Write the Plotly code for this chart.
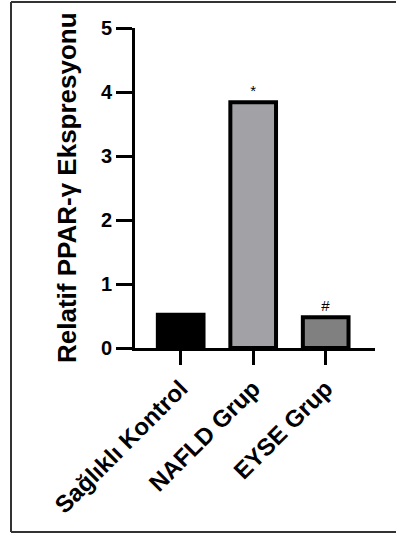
import plotly.graph_objects as go

categories = ["Sağlıklı Kontrol", "NAFLD Grup", "EYSE Grup"]
values = [0.52, 3.84, 0.48]
colors = ["#000000", "#a2a2a6", "#808080"]
markers = ["", "*", "#"]
y_ticks = [0, 1, 2, 3, 4, 5]

FONT = "Liberation Sans, Arial, sans-serif"

fig = go.Figure()
fig.add_trace(go.Bar(
    x=categories, y=values, width=0.63,
    marker=dict(color=colors, line=dict(color="#000000", width=4)),
    text=markers, textposition="outside",
    textfont=dict(family=FONT, size=15, color="#000000"),
    cliponaxis=False,
))

W, H = 396, 537
L, R, T, B = 135, 21, 28, 189
pw, ph = W - L - R, H - T - B

def px_to_paper_x(px):
    return (px - L) / pw

def px_to_paper_y(py):
    return (H - B - py) / ph

frame = dict(color="#333333", width=2)
xl, xr = px_to_paper_x(11), px_to_paper_x(400)
yt, yb = px_to_paper_y(2), px_to_paper_y(532)
for x0, y0, x1, y1 in [(xl, yb, xl, yt), (xl, yt, xr, yt), (xl, yb, xr, yb)]:
    fig.add_shape(type="line", xref="paper", yref="paper",
                  x0=x0, y0=y0, x1=x1, y1=y1, line=frame, layer="below")

fig.add_annotation(text="Relatif PPAR-γ Ekspresyonu", xref="paper", yref="paper",
                   x=px_to_paper_x(67), y=px_to_paper_y(188), textangle=-90,
                   showarrow=False, xanchor="center", yanchor="middle",
                   font=dict(family=FONT, size=26, color="#000000", weight="bold"))

fig.update_layout(
    width=W, height=H,
    margin=dict(l=L, r=R, t=T, b=B, autoexpand=False),
    paper_bgcolor="white", plot_bgcolor="white",
    showlegend=False, bargap=0.3,
    font=dict(family=FONT, color="#000000"),
)
fig.update_xaxes(
    range=[-0.63, 2.68], showline=True, linewidth=3, linecolor="#000000",
    ticks="outside", ticklen=14, tickwidth=3, tickcolor="#000000",
    tickangle=-45, tickfont=dict(family=FONT, size=24, color="#000000", weight="bold"),
    showgrid=False, zeroline=False, automargin=False,
)
fig.update_yaxes(
    range=[0, 5], tickvals=y_ticks, showline=True, linewidth=3, linecolor="#000000",
    ticks="outside", ticklen=16, tickwidth=3, tickcolor="#000000",
    tickfont=dict(family=FONT, size=20, color="#000000", weight="bold"),
    showgrid=False, zeroline=False, automargin=False,
)

fig.write_html("out.html")
